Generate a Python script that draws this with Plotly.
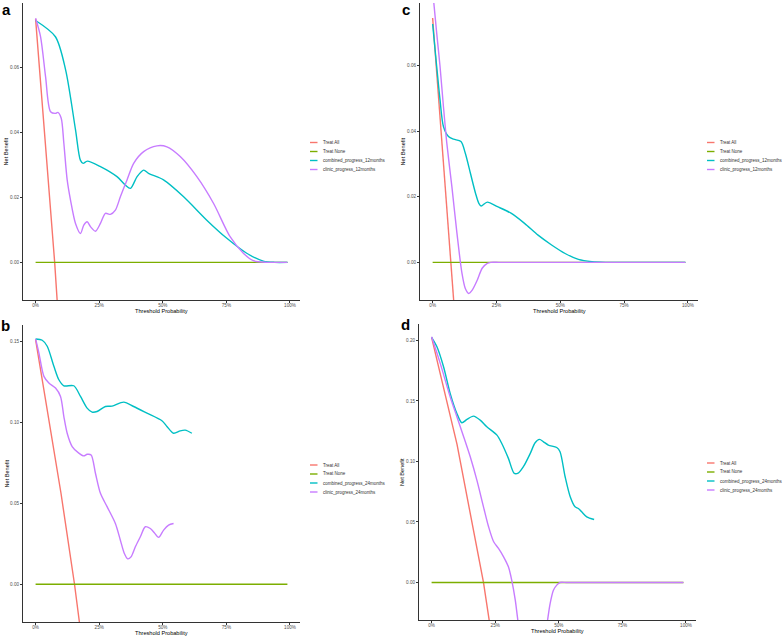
import plotly.graph_objects as go

# ---------------- data ----------------
series_names_12 = ["Treat All", "Treat None", "combined_progress_12months", "clinic_progress_12months"]
series_names_24 = ["Treat All", "Treat None", "combined_progress_24months", "clinic_progress_24months"]
colors = ["#F8766D", "#7CAE00", "#00BFC4", "#C77CFF"]

x_ticks = [0, 0.25, 0.5, 0.75, 1.0]
x_tick_labels = ["0%", "25%", "50%", "75%", "100%"]

# Panel a (12 months)
a_all_x = [0, 0.075, 0.1]
a_all_y = [0.075, 0.0, -0.03]
a_none_x = [0, 0.99]
a_none_y = [0, 0]
a_comb_x = [0, 0.078, 0.118, 0.157, 0.176, 0.187, 0.203, 0.255, 0.320, 0.353, 0.373, 0.399, 0.425, 0.444,
            0.503, 0.582, 0.673, 0.752, 0.830, 0.895, 0.94, 0.99]
a_comb_y = [0.0745, 0.0695, 0.0593, 0.0408, 0.0315, 0.0305, 0.0312, 0.0295, 0.0264, 0.0238, 0.0228, 0.0264,
            0.0284, 0.0274, 0.0254, 0.0202, 0.0130, 0.0074, 0.0028, 0.0004, 0.0, 0.0]
a_clin_x = [0, 0.0196, 0.0392, 0.0588, 0.0784, 0.0876, 0.1007, 0.1111, 0.1242, 0.1373, 0.1569, 0.1765,
            0.1895, 0.2026, 0.2157, 0.2353, 0.2549, 0.2745, 0.2941, 0.3137, 0.3333, 0.3595, 0.3856, 0.4248,
            0.4771, 0.5163, 0.5686, 0.6340, 0.6993, 0.7647, 0.8170, 0.8562, 0.9085, 0.95, 0.99]
a_clin_y = [0.0752, 0.0695, 0.0572, 0.0464, 0.0459, 0.0462, 0.0444, 0.0367, 0.0254, 0.0192, 0.0120, 0.0089,
            0.0115, 0.0125, 0.0110, 0.0096, 0.0120, 0.0151, 0.0148, 0.0161, 0.0202, 0.0254, 0.0305, 0.0341,
            0.0359, 0.0356, 0.0326, 0.0264, 0.0182, 0.0079, 0.0028, 0.0005, 0.0, 0.0, 0.0]

# Panel b (24 months)
b_all_x = [0, 0.1, 0.153, 0.19]
b_all_y = [0.151, 0.056, 0.0, -0.045]
b_none_x = [0, 0.99]
b_none_y = [0, 0]
b_comb_x = [0, 0.0261, 0.0457, 0.0719, 0.0915, 0.1111, 0.1503, 0.1765, 0.2026, 0.2222, 0.2418, 0.2745,
            0.3007, 0.3464, 0.3856, 0.4379, 0.4967, 0.5163, 0.5425, 0.5686, 0.5882, 0.6144]
b_comb_y = [0.1514, 0.1506, 0.1469, 0.1345, 0.1262, 0.1225, 0.1225, 0.1159, 0.1087, 0.1062, 0.1066, 0.1097,
            0.1099, 0.1124, 0.1097, 0.1056, 0.1009, 0.0974, 0.0932, 0.0947, 0.0951, 0.0932]
b_clin_x = [0, 0.0131, 0.0327, 0.0523, 0.0784, 0.0980, 0.1111, 0.1242, 0.1438, 0.1699, 0.1895, 0.2026,
            0.2183, 0.2353, 0.2549, 0.2810, 0.3137, 0.3333, 0.3490, 0.3621, 0.3752, 0.3922, 0.4118, 0.4314,
            0.4510, 0.4667, 0.4837, 0.5033, 0.5229, 0.5425]
b_clin_y = [0.1514, 0.1427, 0.1283, 0.1242, 0.1211, 0.1159, 0.1035, 0.0932, 0.0850, 0.0809, 0.0792, 0.0802,
            0.0798, 0.0685, 0.0561, 0.0479, 0.0375, 0.0272, 0.0190, 0.0157, 0.0169, 0.0231, 0.0293, 0.0355,
            0.0344, 0.0318, 0.0289, 0.0334, 0.0365, 0.0375]

# Panel c (12 months)
c_all_x = [0, 0.0726, 0.1]
c_all_y = [0.0746, 0.0, -0.03]
c_none_x = [0, 0.99]
c_none_y = [0, 0]
c_comb_x = [0, 0.0159, 0.029, 0.0423, 0.0621, 0.082, 0.111, 0.128, 0.148, 0.168, 0.181, 0.190, 0.214,
            0.254, 0.307, 0.360, 0.413, 0.466, 0.519, 0.571, 0.624, 0.677, 0.75, 0.85, 0.99]
c_comb_y = [0.0728, 0.0598, 0.0496, 0.0415, 0.0384, 0.0376, 0.0369, 0.0333, 0.0272, 0.0211, 0.0180, 0.0172,
            0.0184, 0.0170, 0.0150, 0.0119, 0.0083, 0.0053, 0.0027, 0.0009, 0.0002, 0.0, 0.0, 0.0, 0.0]
c_clin_x = [0, 0.0159, 0.029, 0.0423, 0.0555, 0.0754, 0.0952, 0.115, 0.128, 0.1415, 0.155, 0.175, 0.194,
            0.214, 0.228, 0.26, 0.32, 0.45, 0.7, 0.99]
c_clin_y = [0.083, 0.0700, 0.0598, 0.0476, 0.0364, 0.0231, 0.0089, -0.0034, -0.0080, -0.0095, -0.0085,
            -0.0054, -0.0018, -0.0003, 0.0, 0.0, 0.0, 0.0, 0.0, 0.0]

# Panel d (24 months)
d_all_x = [0, 0.1, 0.204, 0.24]
d_all_y = [0.2025, 0.114, 0.0, -0.05]
d_none_x = [0, 0.99]
d_none_y = [0, 0]
d_comb_x = [0, 0.021, 0.047, 0.073, 0.0995, 0.119, 0.139, 0.165, 0.191, 0.217, 0.257, 0.276, 0.302, 0.325,
            0.342, 0.361, 0.388, 0.407, 0.424, 0.440, 0.459, 0.492, 0.505, 0.525, 0.545, 0.564, 0.577, 0.590,
            0.610, 0.639]
d_comb_y = [0.2025, 0.1947, 0.1782, 0.1562, 0.1396, 0.1319, 0.1347, 0.1374, 0.1341, 0.1286, 0.1217, 0.1148,
            0.1025, 0.0901, 0.0906, 0.0956, 0.1066, 0.1154, 0.1182, 0.1162, 0.1135, 0.1115, 0.1080, 0.0873,
            0.0708, 0.0625, 0.0611, 0.0584, 0.0542, 0.0520]
d_clin_x = [0, 0.034, 0.073, 0.0995, 0.126, 0.152, 0.178, 0.204, 0.224, 0.244, 0.263, 0.283, 0.302, 0.315,
            0.329, 0.339, 0.36, 0.40, 0.44, 0.456, 0.466, 0.479, 0.492, 0.505, 0.53, 0.57, 0.65, 0.8, 0.99]
d_clin_y = [0.2030, 0.181, 0.1534, 0.1369, 0.1204, 0.1038, 0.0845, 0.0625, 0.0460, 0.0336, 0.0281, 0.0212,
            0.0129, 0.0019, -0.0146, -0.031, -0.06, -0.075, -0.055, -0.031, -0.0174, -0.0064, -0.0022, 0.0,
            0.0, 0.0, 0.0, 0.0, 0.0]

panels = [
    dict(label="a", names=series_names_12,
         xs=[a_all_x, a_none_x, a_comb_x, a_clin_x], ys=[a_all_y, a_none_y, a_comb_y, a_clin_y],
         yrange=[-0.0116, 0.0799], yticks=[0, 0.02, 0.04, 0.06]),
    dict(label="b", names=series_names_24,
         xs=[b_all_x, b_none_x, b_comb_x, b_clin_x], ys=[b_all_y, b_none_y, b_comb_y, b_clin_y],
         yrange=[-0.0233, 0.160], yticks=[0, 0.05, 0.10, 0.15]),
    dict(label="c", names=series_names_12,
         xs=[c_all_x, c_none_x, c_comb_x, c_clin_x], ys=[c_all_y, c_none_y, c_comb_y, c_clin_y],
         yrange=[-0.0115, 0.0792], yticks=[0, 0.02, 0.04, 0.06]),
    dict(label="d", names=series_names_24,
         xs=[d_all_x, d_none_x, d_comb_x, d_clin_x], ys=[d_all_y, d_none_y, d_comb_y, d_clin_y],
         yrange=[-0.031, 0.2135], yticks=[0, 0.05, 0.10, 0.15, 0.20]),
]

# ---------------- layout geometry (pixels of a 784x636 page) ----------------
W, H = 784, 636
# plot boxes: left, right, top, bottom
boxes = [(23, 300, 3, 300), (23, 300, 325, 622), (420, 698, 3, 300), (419, 696, 324, 620)]
legend_pos = [(310, 142.5), (310, 465), (707, 142.5), (707, 463)]
label_pos = [(6, 9), (5, 325), (406, 9), (405, 324)]

fig = go.Figure()
layout = dict(width=W, height=H, margin=dict(l=0, r=0, t=0, b=0),
              paper_bgcolor="white", plot_bgcolor="white", showlegend=False,
              font=dict(family="Liberation Sans, Arial, sans-serif"))
annotations = []
shapes = []


def px_x(v):
    return v / W


def px_y(v):
    return 1 - v / H


for i, p in enumerate(panels):
    n = "" if i == 0 else str(i + 1)
    xa, ya = "x" + n, "y" + n
    l, r, t, b = boxes[i]
    for k in range(4):
        shape = "linear" if k < 2 else "spline"
        fig.add_trace(go.Scatter(x=p["xs"][k], y=p["ys"][k], mode="lines", name=p["names"][k],
                                 line=dict(color=colors[k], width=1.4, shape=shape, smoothing=0.8),
                                 xaxis=xa, yaxis=ya, hoverinfo="skip"))
    layout["xaxis" + n] = dict(domain=[px_x(l), px_x(r)], range=[-0.0495, 1.0395], anchor=ya,
                               tickvals=x_ticks, ticktext=x_tick_labels, ticks="outside", ticklen=2,
                               tickwidth=0.8, tickcolor="#333333", ticklabelstandoff=-2,
                               tickfont=dict(size=4.6, color="#4D4D4D"),
                               showline=True, linecolor="#333333", linewidth=1.1,
                               showgrid=False, zeroline=False, fixedrange=True)
    layout["yaxis" + n] = dict(domain=[px_y(b), px_y(t)], range=p["yrange"], anchor=xa,
                               tickvals=p["yticks"], tickformat=".2f", ticks="outside", ticklen=2,
                               tickwidth=0.8, tickcolor="#333333",
                               tickfont=dict(size=4.6, color="#4D4D4D"),
                               showline=True, linecolor="#333333", linewidth=1.1,
                               showgrid=False, zeroline=False, fixedrange=True)
    # panel label
    lxp, lyp = label_pos[i]
    annotations.append(dict(text="<b>%s</b>" % p["label"], x=px_x(lxp), y=px_y(lyp),
                            xref="paper", yref="paper", showarrow=False, xanchor="center",
                            yanchor="middle", font=dict(size=15, color="black",
                                                        family="Liberation Sans, Arial, sans-serif")))
    # axis titles
    annotations.append(dict(text="Net Benefit", x=px_x(l - 17), y=px_y((t + b) / 2),
                            xref="paper", yref="paper", showarrow=False, textangle=-90,
                            xanchor="center", yanchor="middle", font=dict(size=5.6, color="black")))
    annotations.append(dict(text="Threshold Probability", x=px_x((l + r) / 2), y=px_y(b + 11),
                            xref="paper", yref="paper", showarrow=False,
                            xanchor="center", yanchor="middle", font=dict(size=5.6, color="black")))
    # legend
    lx, ly = legend_pos[i]
    for k in range(4):
        yy = ly + 9 * k
        shapes.append(dict(type="line", xref="paper", yref="paper", x0=px_x(lx), x1=px_x(lx + 7.5),
                           y0=px_y(yy), y1=px_y(yy), line=dict(color=colors[k], width=1.4)))
        annotations.append(dict(text=p["names"][k], x=px_x(lx + 10.5), y=px_y(yy), xref="paper",
                                yref="paper", showarrow=False, xanchor="left", yanchor="middle",
                                font=dict(size=4.5, color="#333333")))

layout["annotations"] = annotations
layout["shapes"] = shapes
fig.update_layout(**layout)
fig.write_html("out.html", config={"displayModeBar": False},
               post_script="document.body.style.margin='0';document.body.style.overflow='hidden';")
